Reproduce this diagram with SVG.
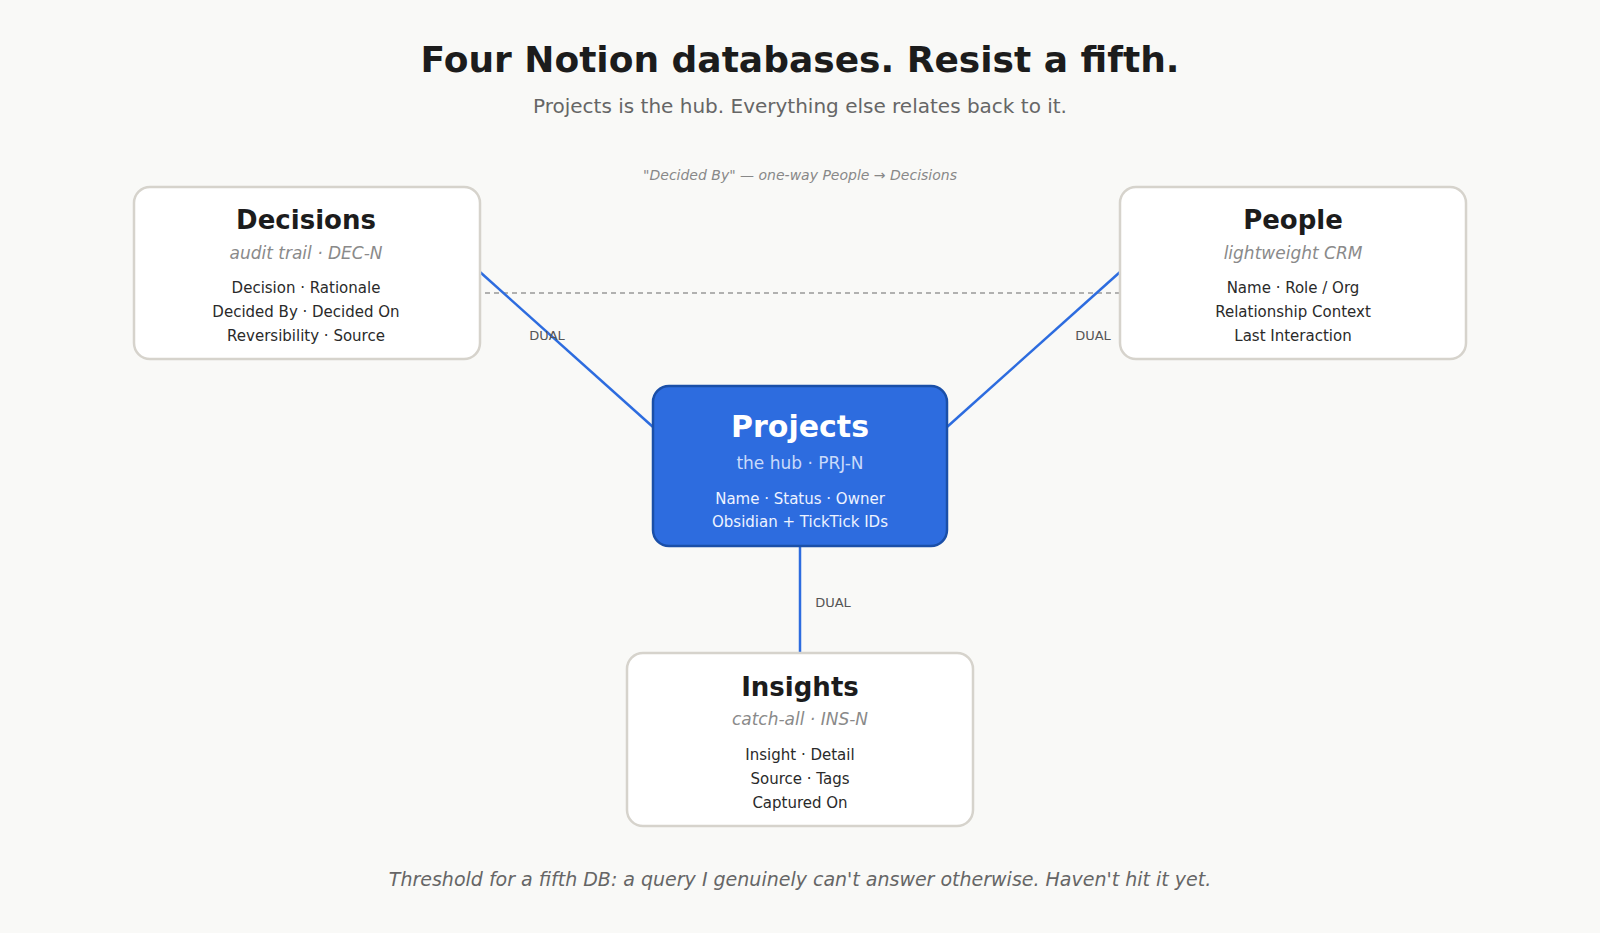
<svg xmlns="http://www.w3.org/2000/svg" width="1600" height="933" viewBox="0 0 1600 933">
<style>
text{font-family:"DejaVu Sans",sans-serif;text-anchor:middle}
.box{fill:#fff;stroke:#d6d3cc;stroke-width:2.5}
.t{font-size:26px;font-weight:bold;fill:#1c1c1c}
.s{font-size:17px;font-style:italic;fill:#8a8a8a}
.f{font-size:15px;fill:#2a2a2a}
.d{font-size:13px;fill:#555}
.e{stroke:#2d6cdf;stroke-width:2.5;fill:none}
</style>
<rect width="1600" height="933" fill="#f9f9f7"/>
<text x="800" y="72" font-size="36" font-weight="bold" fill="#1c1c1c">Four Notion databases. Resist a fifth.</text>
<text x="800" y="113" font-size="20" fill="#666">Projects is the hub. Everything else relates back to it.</text>
<text x="800" y="180" font-size="14" font-style="italic" fill="#888">"Decided By" — one-way People → Decisions</text>
<g id="connectors">
<line x1="485" y1="293" x2="1120" y2="293" stroke="#999" stroke-width="1.3" stroke-dasharray="5,4"/>
<line class="e" x1="480" y1="272" x2="653" y2="427"/>
<line class="e" x1="1120" y1="272" x2="947" y2="427"/>
<line class="e" x1="800" y1="546" x2="800" y2="653"/>
<text class="d" x="547" y="340">DUAL</text>
<text class="d" x="1093" y="340">DUAL</text>
<text class="d" x="833" y="607">DUAL</text>
</g>
<g id="decisions">
<rect class="box" x="134" y="187" width="346" height="172" rx="16"/>
<text class="t" x="306" y="229">Decisions</text>
<text class="s" x="306" y="259">audit trail · DEC-N</text>
<text class="f" x="306" y="293">Decision · Rationale</text>
<text class="f" x="306" y="317">Decided By · Decided On</text>
<text class="f" x="306" y="341">Reversibility · Source</text>
</g>
<g id="people">
<rect class="box" x="1120" y="187" width="346" height="172" rx="16"/>
<text class="t" x="1293" y="229">People</text>
<text class="s" x="1293" y="259">lightweight CRM</text>
<text class="f" x="1293" y="293">Name · Role / Org</text>
<text class="f" x="1293" y="317">Relationship Context</text>
<text class="f" x="1293" y="341">Last Interaction</text>
</g>
<g id="projects">
<rect x="653" y="386" width="294" height="160" rx="16" fill="#2d6cdf" stroke="#1a4fa8" stroke-width="2.5"/>
<text x="800" y="437" font-size="30" font-weight="bold" fill="#fff">Projects</text>
<text x="800" y="469" font-size="17" fill="#c9dafa">the hub · PRJ-N</text>
<text x="800" y="504" font-size="15" fill="#eef3ff">Name · Status · Owner</text>
<text x="800" y="527" font-size="15" fill="#eef3ff">Obsidian + TickTick IDs</text>
</g>
<g id="insights">
<rect class="box" x="627" y="653" width="346" height="173" rx="16"/>
<text class="t" x="800" y="696">Insights</text>
<text class="s" x="800" y="725">catch-all · INS-N</text>
<text class="f" x="800" y="760">Insight · Detail</text>
<text class="f" x="800" y="784">Source · Tags</text>
<text class="f" x="800" y="808">Captured On</text>
</g>
<text x="800" y="886" font-size="19" font-style="italic" fill="#666">Threshold for a fifth DB: a query I genuinely can't answer otherwise. Haven't hit it yet.</text>
</svg>
